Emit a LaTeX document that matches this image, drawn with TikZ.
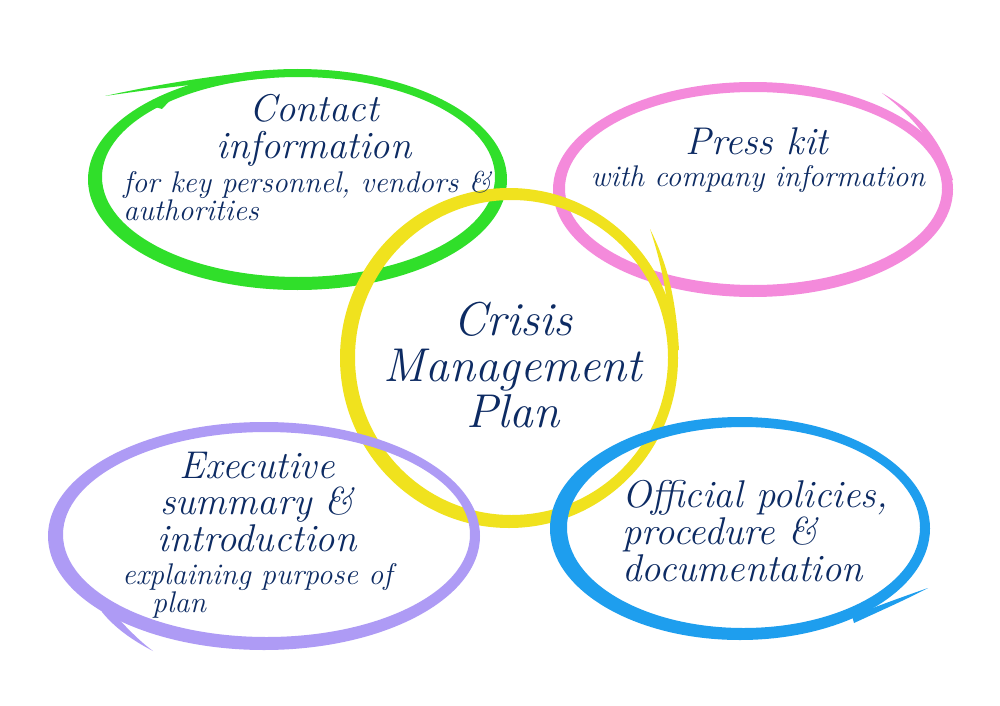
\documentclass[tikz,border=0pt]{standalone}
\usepackage{tikz}
\definecolor{ink}{HTML}{0D2B63}
\definecolor{leaf}{HTML}{30DF2A}
\definecolor{rose}{HTML}{F48ADB}
\definecolor{sun}{HTML}{F0E21E}
\definecolor{lilac}{HTML}{AE9BF5}
\definecolor{sky}{HTML}{1E9EEE}

\begin{document}
\begin{tikzpicture}[x=0.02cm,y=-0.02cm,
  head/.style={ink,font=\itshape\fontsize{22}{21}\selectfont,align=center,inner sep=0pt},
  note/.style={ink,font=\itshape\fontsize{17}{16}\selectfont,inner sep=0pt},
  big/.style={ink,font=\itshape\fontsize{27}{26}\selectfont,align=center,inner sep=0pt}]
\fill[white] (0,0) rectangle (1000,706);
% brush rings
\fill[leaf,even odd rule] (297.5,179.5) ellipse [x radius=209.5,y radius=110.5] (298.5,177) ellipse [x radius=196.5,y radius=100];
\fill[leaf] (105,96) .. controls (160,84) and (210,76) .. (270,70) -- (270,78) .. controls (210,82) and (160,88) .. cycle;
\fill[leaf] (176,94) -- (148,105) -- (162,109) -- cycle;
\fill[rose,even odd rule] (753,189.5) ellipse [x radius=200,y radius=107.5] (753.5,188.5) ellipse [x radius=188.5,y radius=96.5];
\fill[rose] (882,93) .. controls (915,112) and (940,135) .. (953,180) -- (944,180) .. controls (934,140) and (912,116) .. cycle;
\fill[sun,even odd rule] (509,358) ellipse [x radius=169,y radius=170] (511.5,357.5) ellipse [x radius=156.5,y radius=157.5];
\fill[sun] (650,229) .. controls (668,265) and (676,300) .. (679,350) -- (671,350) .. controls (669,300) and (662,265) .. cycle;
\fill[lilac,even odd rule] (264,536) ellipse [x radius=216,y radius=114] (266.5,534.5) ellipse [x radius=203.5,y radius=102.5];
\fill[lilac] (100,599) .. controls (118,618) and (134,637) .. (153,651) .. controls (132,640) and (115,628) .. (102,612) -- cycle;
\fill[sky,even odd rule] (740,528.5) ellipse [x radius=190,y radius=111.5] (743.5,527.5) ellipse [x radius=176.5,y radius=100.5];
\fill[sky] (852,616) .. controls (880,605) and (905,596) .. (928,588) .. controls (905,600) and (880,611) .. (854,623) -- cycle;
% labels
\node[head] (contact) at (314,130) {Contact\\information};
\node[note,anchor=north west,align=left] (contactsub) at (123,171) {for key personnel, vendors \&\\authorities};
\node[head] (press) at (757,141) {Press kit};
\node[note] (presssub) at (758,179) {with company information};
\node[big] (crisis) at (513,365) {Crisis\\Management\\Plan};
\node[head] (exec) at (257,502) {Executive\\summary \&\\introduction};
\node[note,anchor=north west,align=left] (execsub) at (122,563) {explaining purpose of\\\hspace*{17pt}plan};
\node[head,anchor=north west,align=left] (policies) at (622,480) {Official policies,\\procedure \&\\documentation};
\end{tikzpicture}
\end{document}
